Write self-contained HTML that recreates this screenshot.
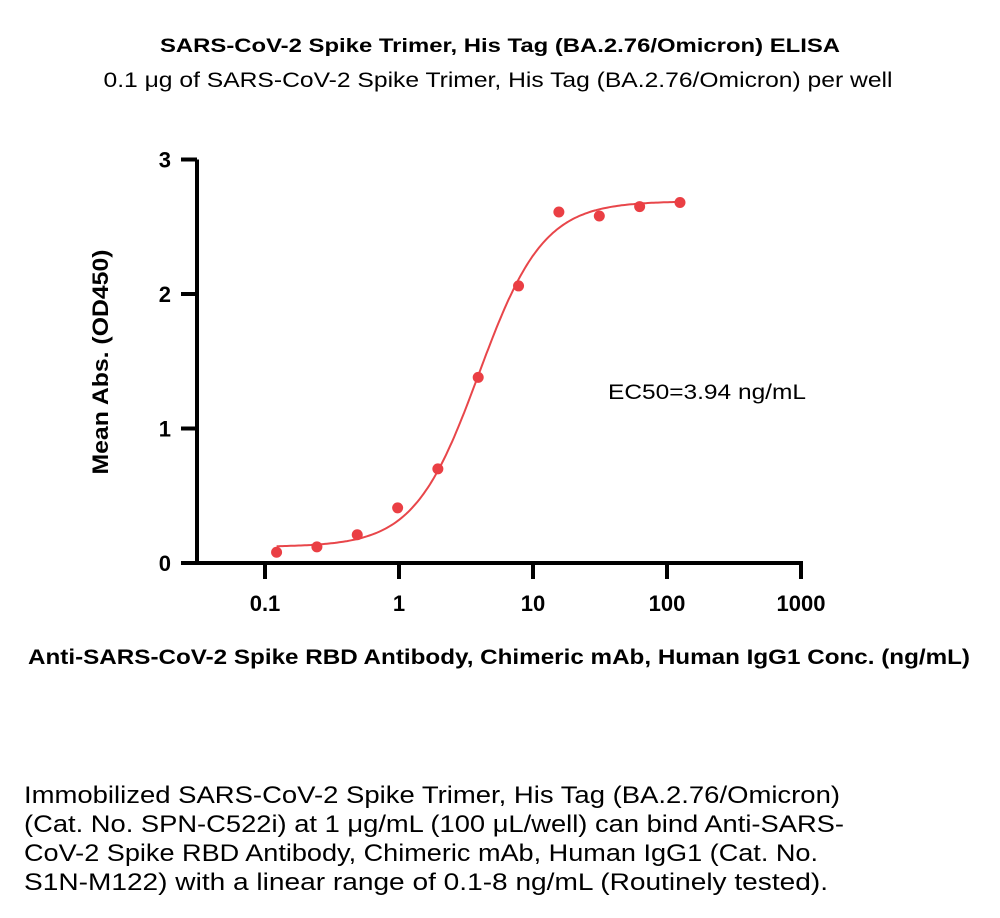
<!DOCTYPE html>
<html><head><meta charset="utf-8"><style>
body{margin:0;background:#fff;width:1000px;height:913px;overflow:hidden;font-family:"Liberation Sans",sans-serif}
svg text{font-family:"Liberation Sans",sans-serif}
</style></head><body>
<svg width="1000" height="913">
<text x="500" y="52" text-anchor="middle" font-size="19" font-weight="bold" textLength="680" lengthAdjust="spacingAndGlyphs">SARS-CoV-2 Spike Trimer, His Tag (BA.2.76/Omicron) ELISA</text>
<text x="498" y="87" text-anchor="middle" font-size="21" textLength="789" lengthAdjust="spacingAndGlyphs">0.1 μg of SARS-CoV-2 Spike Trimer, His Tag (BA.2.76/Omicron) per well</text>
<g id="axes"></g>
<g id="curve"></g>
<g id="pts"></g>
<text x="707" y="399" text-anchor="middle" font-size="21" textLength="198" lengthAdjust="spacingAndGlyphs">EC50=3.94 ng/mL</text>
<text transform="translate(108,362) rotate(-90)" text-anchor="middle" font-size="22" font-weight="bold" textLength="225" lengthAdjust="spacingAndGlyphs">Mean Abs. (OD450)</text>
<text x="499" y="664" text-anchor="middle" font-size="21" font-weight="bold" textLength="942" lengthAdjust="spacingAndGlyphs">Anti-SARS-CoV-2 Spike RBD Antibody, Chimeric mAb, Human IgG1 Conc. (ng/mL)</text>
<g font-size="24">
<text x="24" y="803" textLength="816" lengthAdjust="spacingAndGlyphs">Immobilized SARS-CoV-2 Spike Trimer, His Tag (BA.2.76/Omicron)</text>
<text x="24" y="832" textLength="820" lengthAdjust="spacingAndGlyphs">(Cat. No. SPN-C522i) at 1 μg/mL (100 μL/well) can bind Anti-SARS-</text>
<text x="24" y="861" textLength="794" lengthAdjust="spacingAndGlyphs">CoV-2 Spike RBD Antibody, Chimeric mAb, Human IgG1 (Cat. No.</text>
<text x="24" y="890" textLength="804" lengthAdjust="spacingAndGlyphs">S1N-M122) with a linear range of 0.1-8 ng/mL (Routinely tested).</text>
</g>
</svg>
<script>
const concs=[0.122,0.244,0.488,0.977,1.95,3.9,7.8,15.6,31.25,62.5,125];
const od=[0.08,0.12,0.21,0.41,0.70,1.38,2.06,2.61,2.58,2.65,2.68];
const yTicks=[0,1,2,3];
const xTicks=[0.1,1,10,100,1000];
const xTickLabels=["0.1","1","10","100","1000"];
const fitBottom=0.12,fitTop=2.69,fitEC50=3.94,fitHill=1.8;
const NS="http://www.w3.org/2000/svg";
const X=v=>265+134*Math.log10(v/0.1);
const Y=v=>563-134.5*v;
function mk(t,a,p){const e=document.createElementNS(NS,t);for(const k in a)e.setAttribute(k,a[k]);p.appendChild(e);return e;}
const ax=document.getElementById('axes');
let l=mk('line',{x1:197,y1:Y(3),x2:197,y2:565,stroke:'#000','stroke-width':4},ax);


l=mk('line',{x1:181,y1:563,x2:803,y2:563,stroke:'#000','stroke-width':4},ax);


yTicks.forEach(v=>{
 const t=mk('line',{x1:181,y1:Y(v),x2:197,y2:Y(v),stroke:'#000','stroke-width':4},ax);
 
 
 const tx=mk('text',{x:171,y:Y(v)+8,'text-anchor':'end','font-size':22,'font-weight':'bold'},ax);tx.textContent=v;
 
 
});
xTicks.forEach((v,i)=>{
 const t=mk('line',{x1:X(v),y1:563,x2:X(v),y2:579,stroke:'#000','stroke-width':4},ax);
 
 
 const tx=mk('text',{x:X(v),y:611,'text-anchor':'middle','font-size':22,'font-weight':'bold'},ax);tx.textContent=xTickLabels[i];
 
 
});
let d='';
const lo=Math.log10(concs[0]),hi=Math.log10(concs[concs.length-1]);
for(let i=0;i<=200;i++){const c=Math.pow(10,lo+(hi-lo)*i/200);const v=fitBottom+(fitTop-fitBottom)/(1+Math.pow(fitEC50/c,fitHill));d+=(i?'L':'M')+X(c).toFixed(1)+','+Y(v).toFixed(1);}
const p=mk('path',{d:d,fill:'none',stroke:'#e8464a','stroke-width':2},document.getElementById('curve'));


concs.forEach((c,i)=>{
 const e=mk('circle',{cx:X(c),cy:Y(od[i]),r:5.5,fill:'#ea3f44'},document.getElementById('pts'));
 
 
});
</script>
</body></html>
